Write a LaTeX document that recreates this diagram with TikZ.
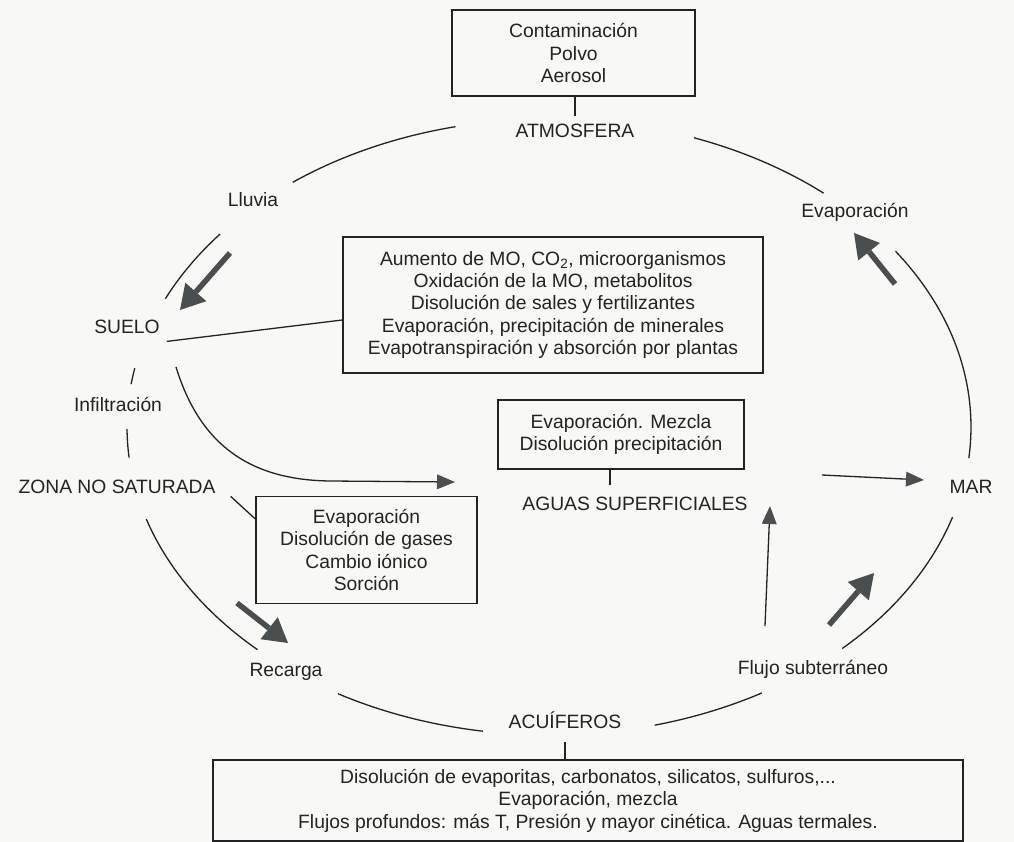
\documentclass[tikz,border=0pt]{standalone}
\usepackage{fontspec}
\setmainfont{Liberation Sans}
\usetikzlibrary{arrows.meta}
\definecolor{ink}{HTML}{232323}
\definecolor{arr}{HTML}{4A4E4F}
\definecolor{paper}{HTML}{F8F8F6}
\begin{document}
\begin{tikzpicture}[x=1pt,y=-1pt,font=\fontsize{19.3}{22.4}\selectfont,
 every node/.style={text=ink},
 lab/.style={anchor=base,inner sep=3pt},
 caja/.style={draw=ink,line width=1.3pt,align=center,inner sep=0pt},
 lin/.style={draw=ink,line width=1.3pt},
 flecha/.style={draw=ink,line width=1.3pt,-{Triangle[length=18pt,width=15pt,line width=0pt,color=arr]}},
 gorda/.style={draw=arr,line width=5.5pt,-{Triangle[length=24pt,width=28pt,line width=0pt]}}]
 \useasboundingbox (0,0) rectangle (1014,842);
 \fill[paper] (0,0) rectangle (1014,842);
 % cycle
 \foreach \a/\b in {232.6/257.2,204.6/218.8,188/191,174.3/179.6,133.7/162.6,
   99/120,59.7/75.5,17/46,-34.8/5.8,-69.9/-49.4}{
  \draw[lin] plot[domain=\a:\b,samples=40] ({549+422*cos(\x)},{427+308*sin(\x)});
 }
 % labels
 \node[lab] (atm) at (575,138) {ATMOSFERA};
 \node[lab] (lluvia) at (253,207) {Lluvia};
 \node[lab] (suelo) at (127,333) {SUELO};
 \node[lab] (infil) at (118,411) {Infiltración};
 \node[lab] (zona) at (117,493) {ZONA NO SATURADA};
 \node[lab] (recarga) at (286,676) {Recarga};
 \node[lab] (acu) at (565,728) {ACUÍFEROS};
 \node[lab] (flujo) at (813,674) {Flujo subterráneo};
 \node[lab] (mar) at (971,493) {MAR};
 \node[lab] (aguas) at (635,510) {AGUAS SUPERFICIALES};
 \node[lab] (evap) at (855,218) {Evaporación};
 % boxes
 \node[caja,minimum width=243,minimum height=86] (atmbox) at (573.5,53)
  {Contaminación\\Polvo\\Aerosol};
 \node[caja,minimum width=420,minimum height=136] (mobox) at (553,305)
  {Aumento de MO, CO\textsubscript{2}, microorganismos\\Oxidación de la MO, metabolitos\\
   Disolución de sales y fertilizantes\\Evaporación, precipitación de minerales\\
   Evapotranspiración y absorción por plantas};
 \node[caja,minimum width=246,minimum height=69] (aguasbox) at (621,434.5)
  {Evaporación. Mezcla\\Disolución precipitación};
 \node[caja,minimum width=221,minimum height=107] (zonabox) at (366.5,550)
  {Evaporación\\Disolución de gases\\Cambio iónico\\Sorción};
 \node[caja,minimum width=750,minimum height=81] (bbox) at (588,800.5)
  {Disolución de evaporitas, carbonatos, silicatos, sulfuros,...\\Evaporación, mezcla\\
   Flujos profundos: más T, Presión y mayor cinética. Aguas termales.};
 % box links
 \draw[lin] (atmbox.south -| atm) -- ++(0,19);
 \draw[lin] ([shift={(4,5)}]suelo.south east) -- ([yshift=-15pt]mobox.west);
 \draw[lin] ([xshift=12pt]zona.south east) -- ([yshift=31pt]zonabox.west);
 \draw[lin] ([xshift=-11pt]aguasbox.south) -- ++(0,15);
 \draw[lin] (acu.south |- bbox.north) -- ++(0,-17);
 % flows
 \coordinate (s0) at (176,367);
 \coordinate (s1) at (455,482);
 \coordinate (m0) at (822,475);
 \coordinate (m1) at (924,480);
 \coordinate (f0) at (765,626);
 \coordinate (f1) at (770,506);
 \draw[flecha] (s0) .. controls (200,445) and (250,480) .. (330,481) -- (s1);
 \draw[flecha] (m0) -- (m1);
 \draw[flecha] (f0) -- (f1);
 \coordinate (g1) at (230,253); \coordinate (g2) at (180,310);
 \coordinate (g3) at (237,603); \coordinate (g4) at (288,643);
 \coordinate (g5) at (829,625); \coordinate (g6) at (874,573);
 \coordinate (g7) at (895,284); \coordinate (g8) at (854,233);
 \draw[gorda] (g1) -- (g2);
 \draw[gorda] (g3) -- (g4);
 \draw[gorda] (g5) -- (g6);
 \draw[gorda] (g7) -- (g8);
\end{tikzpicture}
\end{document}
